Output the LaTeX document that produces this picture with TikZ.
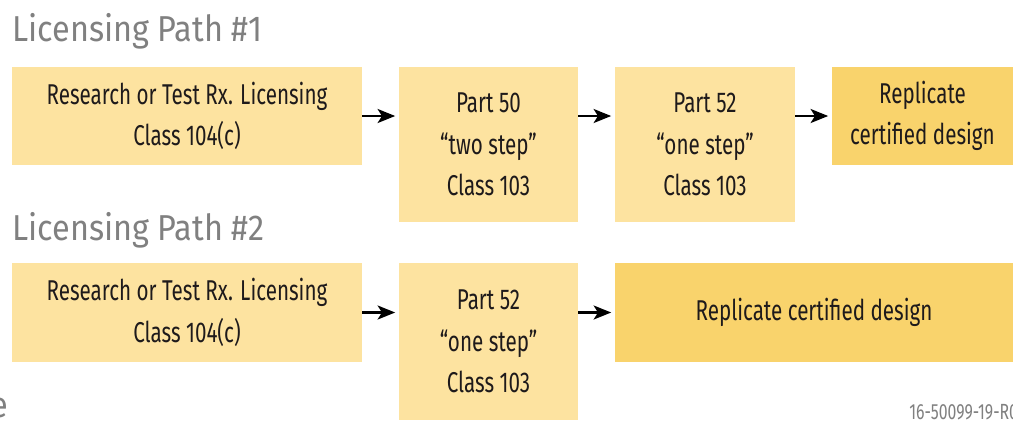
\documentclass[tikz,border=0pt]{standalone}
\usepackage{fontspec}
\setmainfont{Fira Sans}
\newfontfamily\boxfont[FakeStretch=0.72]{Fira Sans}
\newfontfamily\titlefont[FakeStretch=0.9]{Fira Sans}
\usetikzlibrary{arrows.meta}
\definecolor{paleamber}{RGB}{253,227,160}
\definecolor{deepamber}{RGB}{249,211,108}
\definecolor{titlegray}{RGB}{128,128,128}
\definecolor{inkdark}{RGB}{30,26,27}
\tikzset{
  stagebox/.style={fill=paleamber, draw=none, inner sep=0pt, align=center,
    text=inkdark, font=\boxfont\fontsize{16.3}{23.5}\selectfont},
  finalbox/.style={stagebox, fill=deepamber},
  pathtitle/.style={anchor=base west, inner sep=0pt, text=titlegray,
    font=\titlefont\fontsize{20.5}{25}\selectfont},
  flowarrow/.style={line width=1.2pt, draw=black,
    -{Stealth[length=10pt,width=8pt,inset=2.5pt]}, shorten >=2pt}
}
\begin{document}
\begin{tikzpicture}[x=0.02cm, y=-0.02cm]
  \useasboundingbox (0,0) rectangle (1013,434);
  \clip (0,0) rectangle (1013,434);

  % Path 1
  \node[pathtitle] (t1) at (12,41) {Licensing Path \#1};
  \node[stagebox, minimum width=7cm, minimum height=1.96cm] (a1) at (187,116)
    {Research or Test Rx. Licensing\\Class 104(c)};
  \node[stagebox, minimum width=3.58cm, minimum height=3.1cm] (b1) at (488.5,144.5)
    {Part 50\\“two step”\\Class 103};
  \node[stagebox, minimum width=3.6cm, minimum height=3.1cm] (c1) at (705,144.5)
    {Part 52\\“one step”\\Class 103};
  \node[finalbox, minimum width=3.62cm, minimum height=1.96cm] (d1) at (922.5,116)
    {Replicate\\certified design};

  \draw[flowarrow] (a1.east) -- (a1.east -| b1.west);
  \draw[flowarrow] (a1.east -| b1.east) -- (a1.east -| c1.west);
  \draw[flowarrow] (a1.east -| c1.east) -- (d1.west);

  % Path 2
  \node[pathtitle] (t2) at (12,240) {Licensing Path \#2};
  \node[stagebox, minimum width=7cm, minimum height=1.98cm] (a2) at (187,312.5)
    {Research or Test Rx. Licensing\\Class 104(c)};
  \node[stagebox, minimum width=3.58cm, minimum height=3.14cm] (b2) at (488.5,341.5)
    {Part 52\\“one step”\\Class 103};
  \node[finalbox, minimum width=7.96cm, minimum height=1.98cm] (c2) at (814,312.5)
    {Replicate certified design};

  \draw[flowarrow] (a2.east) -- (a2.east -| b2.west);
  \draw[flowarrow] (a2.east -| b2.east) -- (c2.west);

  % edge captions
  \node[anchor=base east, inner sep=0pt, text=titlegray,
    font=\titlefont\fontsize{20.5}{25}\selectfont] (srcfrag) at (9,417) {e};
  \node[anchor=base west, inner sep=0pt, text=titlegray,
    font=\boxfont\fontsize{12.5}{14}\selectfont] (docid) at (909,419) {16-50099-19-R0};
\end{tikzpicture}
\end{document}
